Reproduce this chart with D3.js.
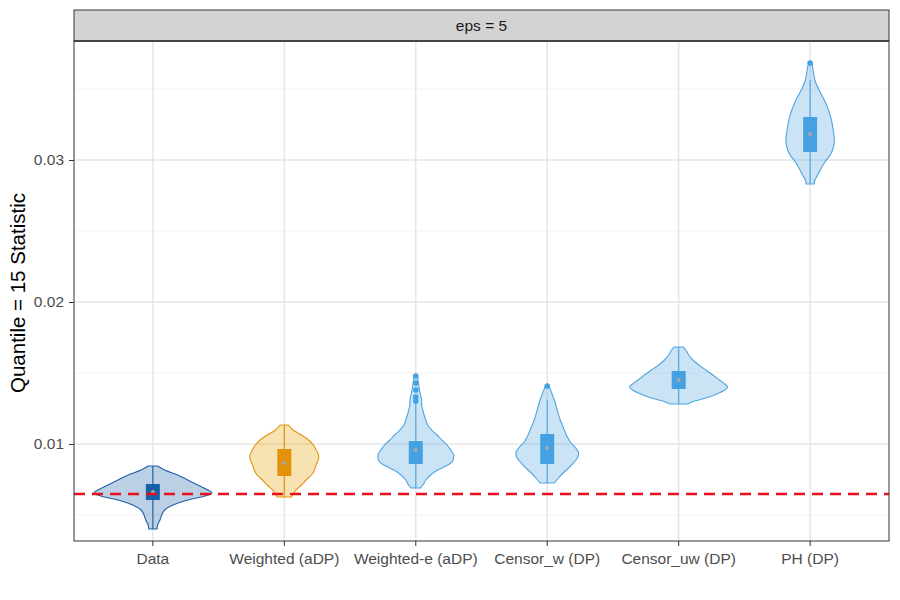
<!DOCTYPE html>
<html><head><meta charset="utf-8">
<script src="https://cdn.jsdelivr.net/npm/d3@7"></script>
<style>body{margin:0;background:#fff}svg{display:block;font-family:"Liberation Sans",Arial,Helvetica,sans-serif}</style>
</head><body><svg id="c" width="900" height="600"></svg>
<script>
const categories = ["Data","Weighted (aDP)","Weighted-e (aDP)","Censor_w (DP)","Censor_uw (DP)","PH (DP)"];
const facetLabel = "eps = 5";
const yTicks = [0.01, 0.02, 0.03];
const yMinor = [0.005, 0.015, 0.025, 0.035];
const refLine = 0.00648;
const yTitle = "Quantile = 15 Statistic";

// violin outlines: value grid and relative density
const densData_v = [0.008451,0.008169,0.007817,0.007465,0.007113,0.006761,0.006549,0.006338,0.006056,0.005704,0.005352,0.005,0.004648,0.004296,0.004014];
const densData_d = [8,20,42,59,76,93,100,88,59,34,20,15,12,8,7];
const densW_v = [0.011338,0.010986,0.010634,0.010282,0.00993,0.009577,0.009225,0.009014,0.008732,0.008451,0.008169,0.007817,0.007465,0.007113,0.006761,0.006408,0.006268];
const densW_d = [7,15,29,41,49,54,58,58,56,53,51,46,37,29,20,14,12];
const densWe_v = [0.014789,0.014155,0.013451,0.013099,0.012746,0.012394,0.012042,0.01169,0.011338,0.010986,0.010634,0.010282,0.00993,0.009577,0.009225,0.009014,0.008732,0.008451,0.008169,0.007817,0.007465,0.007113,0.006901];
const densWe_d = [3,5,8,10,10,12,14,17,20,27,36,44,53,59,64,64,61,51,37,25,17,12,8];
const densCw_v = [0.014085,0.013662,0.013099,0.012394,0.01169,0.010986,0.010493,0.010141,0.009789,0.009366,0.009014,0.008662,0.00831,0.007958,0.007606,0.007254];
const densCw_d = [3,7,12,17,22,29,34,39,47,53,51,44,36,27,19,12];
const densCuw_v = [0.016831,0.01662,0.016268,0.015915,0.015563,0.015211,0.014859,0.014507,0.014155,0.014014,0.013803,0.013521,0.013239,0.013028,0.012817];
const densCuw_d = [8,12,17,24,34,46,58,69,80,83,78,64,46,27,15];
const densPH_v = [0.036831,0.036338,0.035634,0.03493,0.034225,0.033521,0.032817,0.032113,0.031408,0.030845,0.030352,0.029859,0.029296,0.028873,0.028592,0.02831];
const densPH_d = [3,5,8,15,24,31,36,39,41,39,34,25,17,12,8,7];

// box stats: [whiskerLow, q1, median, q3, whiskerHigh]
const boxStats = [
  [0.004014,0.006056,0.00662,0.007183,0.008451],
  [0.006268,0.007746,0.008662,0.009648,0.011338],
  [0.006901,0.008592,0.009577,0.010211,0.012887],
  [0.007254,0.008592,0.009718,0.010704,0.013099],
  [0.012817,0.013873,0.014507,0.015141,0.016831],
  [0.02831,0.030563,0.031831,0.033028,0.035634]
];
const outliers = [[],[],[0.014789,0.014296,0.013803,0.01331,0.013028],[0.014085],[],[0.036831]];

const lineCols = ["#1f60a8","#e3920f","#4ea5e0","#4ea5e0","#4ea5e0","#4ea5e0"];
const fillCols = ["#1f60a8","#e69f00","#4ea5e0","#4ea5e0","#4ea5e0","#4ea5e0"];
const boxCols = ["#1560a8","#e3920a","#45a1e2","#45a1e2","#45a1e2","#45a1e2"];

const dens = [[densData_v,densData_d],[densW_v,densW_d],[densWe_v,densWe_d],[densCw_v,densCw_d],[densCuw_v,densCuw_d],[densPH_v,densPH_d]];

const svg = d3.select("#c");
const L=74, R=889, T=41, B=541, stripT=10;

const x = d3.scaleBand().domain(categories).range([L,R]).paddingOuter(0.1).paddingInner(0);
const y = d3.scaleLinear().domain([0.00317,0.03838]).range([B,T]);
const maxD = 100;
const w = d3.scaleLinear().domain([0,maxD]).range([0, x.bandwidth()*0.45]);

// panel background
svg.append("rect").attr("x",L).attr("y",T).attr("width",R-L).attr("height",B-T).attr("fill","#fff");
// grid
const g = svg.append("g");
g.selectAll(".mn").data(yMinor).join("line").attr("x1",L).attr("x2",R)
 .attr("y1",d=>y(d)).attr("y2",d=>y(d)).attr("stroke","#f0f0f0").attr("stroke-width",0.8);
g.selectAll(".mj").data(yTicks).join("line").attr("x1",L).attr("x2",R)
 .attr("y1",d=>y(d)).attr("y2",d=>y(d)).attr("stroke","#e6e6e6").attr("stroke-width",1.5);
g.selectAll(".vx").data(categories).join("line").attr("y1",T).attr("y2",B)
 .attr("x1",d=>x(d)+x.bandwidth()/2).attr("x2",d=>x(d)+x.bandwidth()/2).attr("stroke","#e6e6e6").attr("stroke-width",1.5);

// violins
categories.forEach((c,i)=>{
  const cx = x(c)+x.bandwidth()/2;
  const pts = dens[i][0].map((v,k)=>({v, d:dens[i][1][k]}));
  const area = d3.area().y(p=>y(p.v)).x0(p=>cx-w(p.d)).x1(p=>cx+w(p.d)).curve(d3.curveMonotoneY);
  svg.append("path").attr("d",area(pts)).attr("fill",fillCols[i]).attr("fill-opacity",0.3)
    .attr("stroke",lineCols[i]).attr("stroke-width",1.1);
  const s = boxStats[i];
  svg.append("line").attr("x1",cx).attr("x2",cx).attr("y1",y(s[0])).attr("y2",y(s[4]))
    .attr("stroke",lineCols[i]).attr("stroke-width",1.1);
  svg.append("rect").attr("x",cx-7).attr("width",14).attr("y",y(s[3])).attr("height",y(s[1])-y(s[3]))
    .attr("fill",boxCols[i]);
  svg.selectAll(null).data(outliers[i]).join("circle").attr("cx",cx).attr("cy",d=>y(d)).attr("r",2.8).attr("fill",boxCols[i]);
  svg.append("circle").attr("cx",cx).attr("cy",y(s[2])).attr("r",2).attr("fill","#a8a8a8");
});

// reference line
svg.append("line").attr("x1",L).attr("x2",R).attr("y1",y(refLine)).attr("y2",y(refLine))
  .attr("stroke","#e8101c").attr("stroke-width",2.6).attr("stroke-dasharray","11,7");

// panel border
svg.append("rect").attr("x",L).attr("y",T).attr("width",R-L).attr("height",B-T).attr("fill","none").attr("stroke","#333").attr("stroke-width",1);
// strip
svg.append("rect").attr("x",L).attr("y",stripT).attr("width",R-L).attr("height",T-stripT).attr("fill","#d3d3d3").attr("stroke","#333").attr("stroke-width",1);
svg.append("line").attr("x1",L).attr("x2",R).attr("y1",T).attr("y2",T).attr("stroke","#444").attr("stroke-width",2);
svg.append("text").attr("x",(L+R)/2).attr("y",(stripT+T)/2).attr("dy","0.35em").attr("text-anchor","middle")
  .attr("font-size",15.5).attr("fill","#1a1a1a").text(facetLabel);

// axes
const ya = svg.append("g").attr("transform",`translate(${L},0)`).call(d3.axisLeft(y).tickValues(yTicks).tickSize(5).tickSizeOuter(0).tickFormat(d3.format(".2f")));
ya.select(".domain").remove();
ya.selectAll("line").attr("stroke","#333");
ya.selectAll("text").attr("fill","#4d4d4d").attr("font-size",15.5).attr("x",-10).style("font-family","inherit");
const xa = svg.append("g").attr("transform",`translate(0,${B})`).call(d3.axisBottom(x).tickSize(5).tickSizeOuter(0));
xa.select(".domain").remove();
xa.selectAll("line").attr("stroke","#333");
xa.selectAll("text").attr("fill","#4d4d4d").attr("font-size",15.5).attr("y",12).style("font-family","inherit");

svg.append("text").attr("transform",`translate(25,293) rotate(-90)`).attr("text-anchor","middle")
  .attr("font-size",20.5).attr("fill","#000").text(yTitle);
</script></body></html>
